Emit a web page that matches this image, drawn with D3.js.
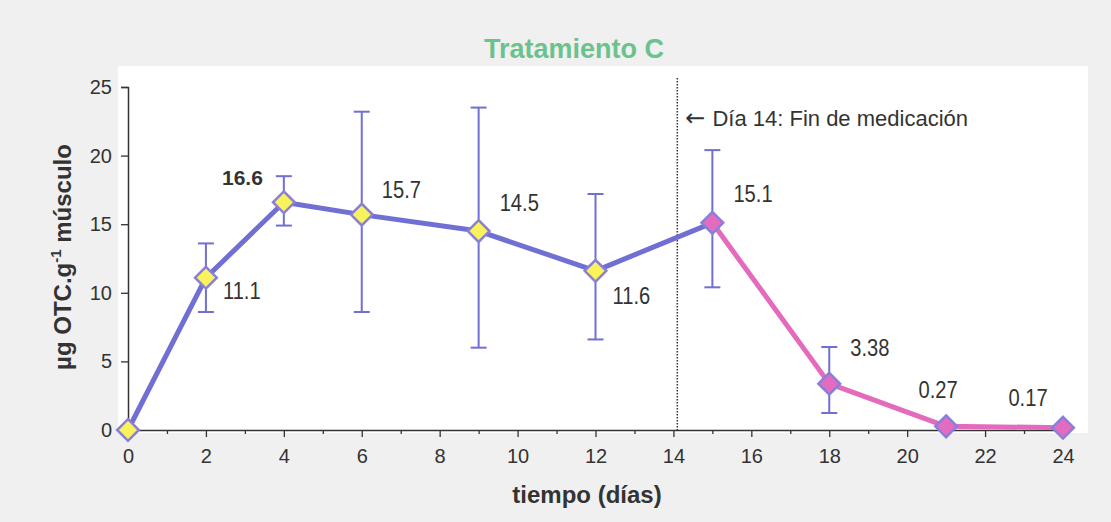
<!DOCTYPE html>
<html>
<head>
<meta charset="utf-8">
<script src="https://cdn.jsdelivr.net/npm/d3@7"></script>
<style>
  html, body { margin: 0; padding: 0; background: #f0f0f0; }
  svg { display: block; font-family: Arial, "Liberation Sans", sans-serif; }
</style>
</head>
<body>
<svg id="chart" width="1111" height="522"></svg>
<script>
// data
const days = [0, 2, 4, 6, 9, 12, 15, 18, 21, 24];
const means = [0, 11.1, 16.6, 15.7, 14.5, 11.6, 15.1, 3.38, 0.27, 0.17];
const errHigh = [null, 13.6, 18.5, 23.2, 23.5, 17.2, 20.4, 6.05, null, null];
const errLow = [null, 8.6, 14.9, 8.6, 6.0, 6.6, 10.4, 1.24, null, null];
const valueLabels = ['', '11.1', '16.6', '15.7', '14.5', '11.6', '15.1', '3.38', '0.27', '0.17'];
const xTicks = [0, 2, 4, 6, 8, 10, 12, 14, 16, 18, 20, 22, 24];
const yTicks = [0, 5, 10, 15, 20, 25];
const medicationEnd = 14.1;

// label placement relative to each point: [dx, dy, anchor, bold]
const labelPos = [
  null,
  [17, 21, 'start', false],
  [-21, -17, 'end', true],
  [20, -17, 'start', false],
  [21, -20, 'start', false],
  [17, 33, 'start', false],
  [21, -21, 'start', false],
  [21, -28, 'start', false],
  [-8, -28, 'middle', false],
  [-35, -22, 'middle', false]
];

const blue = '#6f6fd4';
const pink = '#e46bbb';

const svg = d3.select('#chart');
const margin = { left: 128, right: 48, top: 87, bottom: 92 };
const width = 1111 - margin.left - margin.right;
const height = 522 - margin.top - margin.bottom;

svg.append('rect')
  .attr('x', 118).attr('y', 66)
  .attr('width', 970).attr('height', 367)
  .attr('fill', '#ffffff');

const x = d3.scaleLinear().domain([0, 24]).range([0, width]);
const y = d3.scaleLinear().domain([0, 25]).range([height, 0]);

const g = svg.append('g').attr('transform', `translate(${margin.left},${margin.top})`);

// title
svg.append('text')
  .attr('x', 574).attr('y', 58)
  .attr('text-anchor', 'middle')
  .style('font-size', '27px')
  .style('font-weight', 'bold')
  .style('fill', '#6cc28c')
  .text('Tratamiento C');

// axes
const xAxis = g.append('g')
  .attr('transform', `translate(0,${height})`)
  .call(d3.axisBottom(x).tickValues(xTicks).tickSize(7).tickPadding(12).tickFormat(d3.format('d')));

g.append('g')
  .attr('transform', `translate(0,${height})`)
  .call(d3.axisBottom(x).tickValues(d3.range(1, 24, 2)).tickSize(4).tickFormat(''))
  .call(a => a.select('.domain').remove())
  .selectAll('line').attr('stroke', '#333').attr('stroke-width', 1.3);

const yAxis = g.append('g')
  .call(d3.axisLeft(y).tickValues(yTicks).tickSize(7).tickPadding(9));

[xAxis, yAxis].forEach(a => {
  a.select('.domain').attr('stroke', '#333').attr('stroke-width', 1.5);
  a.selectAll('.tick line').attr('stroke', '#333').attr('stroke-width', 1.3);
  a.selectAll('.tick text')
    .style('font-size', '20px')
    .style('fill', '#333')
    .style('font-family', 'Arial, "Liberation Sans", sans-serif');
});

// axis titles
svg.append('text')
  .attr('x', 587).attr('y', 503)
  .attr('text-anchor', 'middle')
  .style('font-size', '24px')
  .style('font-weight', 'bold')
  .style('fill', '#333')
  .text('tiempo (días)');

const yTitle = svg.append('text')
  .attr('transform', 'translate(71,257) rotate(-90)')
  .attr('text-anchor', 'middle')
  .style('font-size', '24px')
  .style('font-weight', 'bold')
  .style('fill', '#333');
yTitle.append('tspan').text('µg OTC.g');
yTitle.append('tspan').attr('dy', -10).style('font-size', '15px').text('-1');
yTitle.append('tspan').attr('dy', 10).text(' músculo');

// end of medication marker
g.append('line')
  .attr('x1', x(medicationEnd)).attr('x2', x(medicationEnd))
  .attr('y1', y(25) - 9).attr('y2', y(0))
  .attr('stroke', '#333')
  .attr('stroke-width', 1.5)
  .attr('stroke-dasharray', '1.5,1.5');

const note = g.append('text')
  .attr('x', x(medicationEnd) + 8).attr('y', y(25) + 39)
  .style('font-size', '22px')
  .style('fill', '#333');
note.append('tspan').style('font-family', '"DejaVu Sans", sans-serif').style('font-size', '24px').text('←');
note.append('tspan').attr('dx', 7).text('Día 14: Fin de medicación');

// error bars
const points = days.map((d, i) => ({ day: d, mean: means[i], hi: errHigh[i], lo: errLow[i], label: valueLabels[i], pos: labelPos[i] }));
const withErr = points.filter(p => p.hi !== null);

const eb = g.append('g').attr('stroke', blue).attr('stroke-width', 2);
eb.selectAll('line.v').data(withErr).join('line')
  .attr('class', 'v')
  .attr('x1', d => x(d.day)).attr('x2', d => x(d.day))
  .attr('y1', d => y(d.hi)).attr('y2', d => y(d.lo));
eb.selectAll('line.top').data(withErr).join('line')
  .attr('class', 'top')
  .attr('x1', d => x(d.day) - 8).attr('x2', d => x(d.day) + 8)
  .attr('y1', d => y(d.hi)).attr('y2', d => y(d.hi));
eb.selectAll('line.bot').data(withErr).join('line')
  .attr('class', 'bot')
  .attr('x1', d => x(d.day) - 8).attr('x2', d => x(d.day) + 8)
  .attr('y1', d => y(d.lo)).attr('y2', d => y(d.lo));

// lines
const line = d3.line().x(d => x(d.day)).y(d => y(d.mean));
const during = points.filter(p => p.day <= 15);
const after = points.filter(p => p.day >= 15);

g.append('path').datum(during)
  .attr('d', line).attr('fill', 'none')
  .attr('stroke', blue).attr('stroke-width', 5).attr('stroke-linejoin', 'round');
g.append('path').datum(after)
  .attr('d', line).attr('fill', 'none')
  .attr('stroke', pink).attr('stroke-width', 5).attr('stroke-linejoin', 'round');

// diamond markers
const diamond = d3.symbol().type(d3.symbolDiamond2).size(300);
g.selectAll('path.marker').data(points).join('path')
  .attr('class', 'marker')
  .attr('d', diamond)
  .attr('transform', d => `translate(${x(d.day)},${y(d.mean)})`)
  .attr('fill', d => d.day >= 15 ? '#e36cc0' : '#f8f35a')
  .attr('stroke', '#8a7fd8')
  .attr('stroke-width', 2.5);

// value labels (the plain ones are set in a condensed face)
g.selectAll('text.val').data(points.filter(p => p.pos)).join('text')
  .attr('class', 'val')
  .attr('transform', d => `translate(${x(d.day) + d.pos[0]},${y(d.mean) + d.pos[1]}) scale(${d.pos[3] ? 1 : 0.84},1)`)
  .attr('text-anchor', d => d.pos[2])
  .style('font-weight', d => d.pos[3] ? 'bold' : 'normal')
  .style('font-size', d => d.pos[3] ? '21px' : '24px')
  .style('fill', '#333')
  .text(d => d.label);
</script>
</body>
</html>
